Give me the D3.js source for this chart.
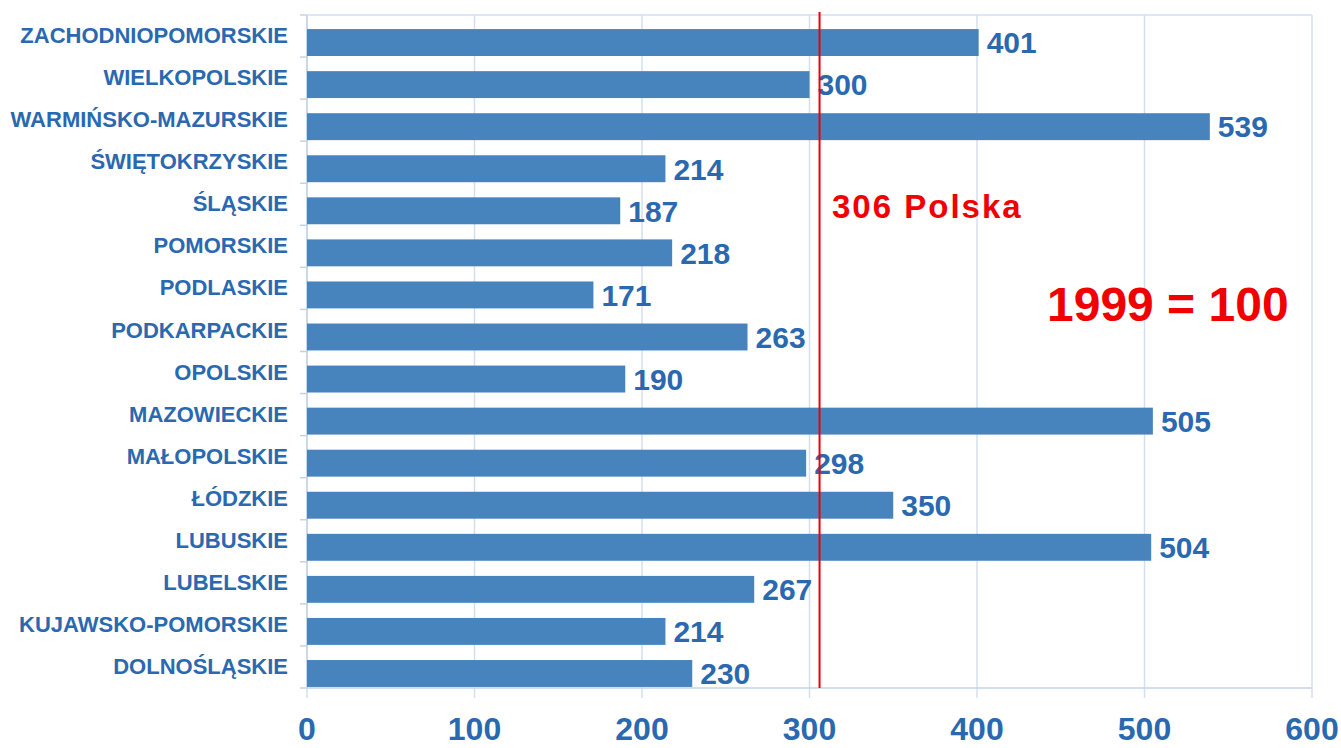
<!DOCTYPE html>
<html>
<head>
<meta charset="utf-8">
<script src="https://cdn.jsdelivr.net/npm/d3@7"></script>
<style>
  body { margin: 0; background: #fff; }
  svg { display: block; font-family: "Liberation Sans", Arial, sans-serif; }
</style>
</head>
<body>
<svg id="chart" width="1341" height="748"></svg>
<script>
// regions, top to bottom as in the picture
const regions = [
  "ZACHODNIOPOMORSKIE", "WIELKOPOLSKIE", "WARMIŃSKO-MAZURSKIE", "ŚWIĘTOKRZYSKIE",
  "ŚLĄSKIE", "POMORSKIE", "PODLASKIE", "PODKARPACKIE", "OPOLSKIE", "MAZOWIECKIE",
  "MAŁOPOLSKIE", "ŁÓDZKIE", "LUBUSKIE", "LUBELSKIE", "KUJAWSKO-POMORSKIE", "DOLNOŚLĄSKIE"
];
const values = [401, 300, 539, 214, 187, 218, 171, 263, 190, 505, 298, 350, 504, 267, 214, 230];
const xTicks = [0, 100, 200, 300, 400, 500, 600];
const polskaValue = 306;
const polskaLabel = "306 Polska";
const baseLabel = "1999 = 100";

const svg = d3.select('#chart');

const plotLeft = 307, plotRight = 1312, plotTop = 15, plotBottom = 688;
const blue = "#2a69b0";
const barFill = "#4784be";
const gridColor = "#d3dfee";
const axisColor = "#c3d3e7";

const x = d3.scaleLinear().domain([0, 600]).range([plotLeft, plotRight]);
const y = d3.scaleBand().domain(regions).range([plotTop, plotBottom]).padding(0);

// grid lines + top border
svg.append('g')
  .selectAll('line')
  .data(xTicks)
  .join('line')
  .attr('x1', d => x(d)).attr('x2', d => x(d))
  .attr('y1', plotTop).attr('y2', plotBottom + 10)
  .attr('stroke', gridColor)
  .attr('stroke-width', 1.5);

svg.append('line')
  .attr('x1', plotLeft).attr('x2', plotRight)
  .attr('y1', plotTop).attr('y2', plotTop)
  .attr('stroke', gridColor).attr('stroke-width', 1.5);

// left axis with little ticks at band edges
svg.append('line')
  .attr('x1', plotLeft).attr('x2', plotLeft)
  .attr('y1', plotTop).attr('y2', plotBottom)
  .attr('stroke', axisColor).attr('stroke-width', 1.5);

svg.append('g')
  .selectAll('line')
  .data(regions)
  .join('line')
  .attr('x1', plotLeft - 7).attr('x2', plotLeft)
  .attr('y1', d => y(d)).attr('y2', d => y(d))
  .attr('stroke', axisColor).attr('stroke-width', 1.5);

// bottom axis
svg.append('line')
  .attr('x1', plotLeft - 7).attr('x2', plotRight)
  .attr('y1', plotBottom).attr('y2', plotBottom)
  .attr('stroke', axisColor).attr('stroke-width', 1.5);

// bars
const bw = y.bandwidth();
svg.append('g')
  .selectAll('rect')
  .data(values)
  .join('rect')
  .attr('x', x(0))
  .attr('y', (d, i) => y(regions[i]) + bw * 0.335)
  .attr('width', d => x(d) - x(0))
  .attr('height', bw * 0.64)
  .attr('fill', barFill);

// value labels
svg.append('g')
  .selectAll('text')
  .data(values)
  .join('text')
  .attr('x', d => x(d) + 8)
  .attr('y', (d, i) => y(regions[i]) + bw * 0.655)
  .attr('dy', '0.36em')
  .attr('fill', blue)
  .attr('font-size', 30)
  .attr('font-weight', 'bold')
  .text(d => d);

// category labels
svg.append('g')
  .selectAll('text')
  .data(regions)
  .join('text')
  .attr('x', 288)
  .attr('y', d => y(d) + bw * 0.48)
  .attr('dy', '0.36em')
  .attr('text-anchor', 'end')
  .attr('fill', blue)
  .attr('font-size', 22)
  .attr('font-weight', 'bold')
  .text(d => d);

// x tick labels
svg.append('g')
  .selectAll('text')
  .data(xTicks)
  .join('text')
  .attr('x', d => x(d))
  .attr('y', 740)
  .attr('text-anchor', 'middle')
  .attr('fill', blue)
  .attr('font-size', 32)
  .attr('font-weight', 'bold')
  .text(d => d);

// Polska reference line
svg.append('line')
  .attr('x1', x(polskaValue)).attr('x2', x(polskaValue))
  .attr('y1', 12).attr('y2', plotBottom)
  .attr('stroke', "#e8000b").attr('stroke-width', 2);

svg.append('text')
  .attr('x', 832)
  .attr('y', 218)
  .attr('fill', "#f00000")
  .attr('font-size', 33)
  .attr('font-weight', 'bold')
  .attr('letter-spacing', 2)
  .text(polskaLabel);

svg.append('text')
  .attr('x', 1047)
  .attr('y', 321)
  .attr('fill', "#f00000")
  .attr('font-size', 48)
  .attr('font-weight', 'bold')
  .text(baseLabel);
</script>
</body>
</html>
